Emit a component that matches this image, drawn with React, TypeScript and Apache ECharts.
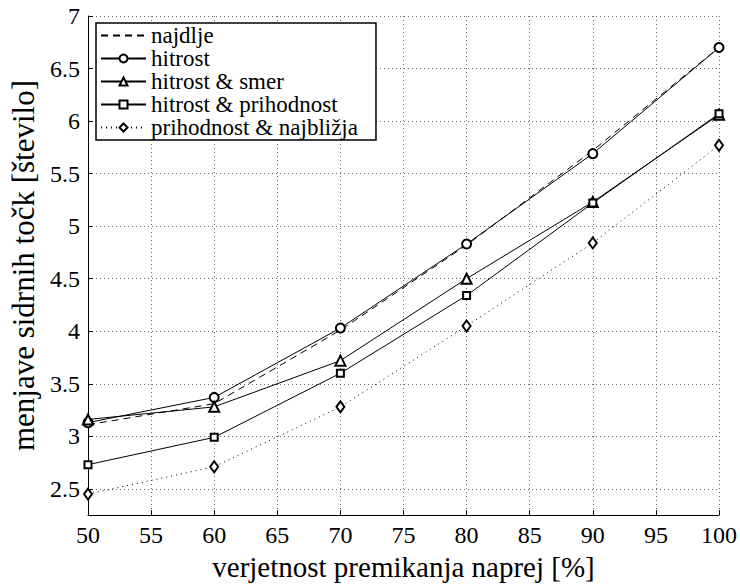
import React, { useEffect, useRef } from "react";
import * as echarts from "echarts";

const xValues = [50, 60, 70, 80, 90, 100];
const najdlje = [3.11, 3.31, 4.01, 4.82, 5.72, 6.70];
const hitrost = [3.13, 3.37, 4.03, 4.83, 5.69, 6.70];
const hitrostSmer = [3.16, 3.28, 3.72, 4.50, 5.23, 6.06];
const hitrostPrihodnost = [2.73, 2.99, 3.60, 4.34, 5.22, 6.07];
const prihodnostNajblizja = [2.45, 2.71, 3.28, 4.05, 4.84, 5.77];
const yTicks = [2.5, 3, 3.5, 4, 4.5, 5, 5.5, 6, 6.5, 7];

const FONT = "Liberation Serif";
const LABEL_FONT = "serif";

const pairs = (ys: number[]) => xValues.map((x, i) => [x, ys[i]]);

export default function App() {
  const ref = useRef<HTMLDivElement>(null);
  useEffect(() => {
    if (!ref.current) return;
    const chart = echarts.init(ref.current, undefined, { renderer: "svg" });
    const base = {
      type: "line",
      color: "#000",
      lineStyle: { color: "#000", width: 1 },
      itemStyle: { color: "#000", borderColor: "#000", borderWidth: 1 },
      emphasis: { disabled: true },
    };
    chart.setOption({
      animation: false,
      grid: { left: 88, right: 19, top: 16, bottom: 70 },
      legend: {
        orient: "vertical",
        left: 96,
        top: 23,
        backgroundColor: "#fff",
        borderColor: "#000",
        borderWidth: 1.5,
        padding: [1, 18, 1, 4],
        itemGap: 0,
        itemWidth: 45,
        itemHeight: 10,
        textStyle: { fontFamily: LABEL_FONT, fontSize: 23, color: "#000", lineHeight: 21.5 },
        data: [
          { name: "najdlje", itemStyle: { opacity: 0 } },
          "hitrost",
          "hitrost & smer",
          "hitrost & prihodnost",
          "prihodnost & najbližja",
        ],
      },
      xAxis: {
        type: "value",
        min: 50,
        max: 100,
        interval: 5,
        name: "verjetnost premikanja naprej [%]",
        nameLocation: "middle",
        nameGap: 33,
        nameTextStyle: { fontFamily: FONT, fontSize: 29, color: "#000" },
        axisLine: { show: true, onZero: false, lineStyle: { color: "#000", width: 1 } },
        axisTick: { show: true, inside: true, length: 5, lineStyle: { color: "#000" } },
        axisLabel: { fontFamily: LABEL_FONT, fontSize: 24, color: "#000" },
        splitLine: { show: true, lineStyle: { color: "#666", type: [1, 3], width: 1 } },
      },
      yAxis: {
        type: "value",
        min: 2.25,
        max: 7,
        name: "menjave sidrnih točk [število]",
        nameLocation: "middle",
        nameRotate: 90,
        nameGap: 47,
        nameTextStyle: { fontFamily: FONT, fontSize: 31, color: "#000" },
        axisLine: { show: true, onZero: false, lineStyle: { color: "#000", width: 1 } },
        axisTick: { show: true, inside: true, length: 5, customValues: yTicks, lineStyle: { color: "#000" } },
        axisLabel: { fontFamily: LABEL_FONT, fontSize: 24, color: "#000", customValues: yTicks },
        splitLine: { show: true, lineStyle: { color: "#666", type: [1, 3], width: 1 } },
      },
      series: [
        {
          ...base,
          name: "najdlje",
          data: pairs(najdlje),
          symbol: "none",
          lineStyle: { color: "#000", width: 1, type: [7, 5] },
        },
        {
          ...base,
          name: "hitrost",
          data: pairs(hitrost),
          symbol: "emptyCircle",
          symbolSize: 9,
        },
        {
          ...base,
          name: "hitrost & smer",
          data: pairs(hitrostSmer),
          symbol: "emptyTriangle",
          symbolSize: 10,
        },
        {
          ...base,
          name: "hitrost & prihodnost",
          data: pairs(hitrostPrihodnost),
          symbol: "emptyRect",
          symbolSize: 7,
        },
        {
          ...base,
          name: "prihodnost & najbližja",
          data: pairs(prihodnostNajblizja),
          symbol: "emptyDiamond",
          symbolSize: [8, 11],
          lineStyle: { color: "#000", width: 1, type: [1, 4] },
        },
      ],
    });
    return () => chart.dispose();
  }, []);
  return (
    <div
      ref={ref}
      style={{ width: 740, height: 586, position: "absolute", left: 0, top: 0, background: "#fff" }}
    />
  );
}
